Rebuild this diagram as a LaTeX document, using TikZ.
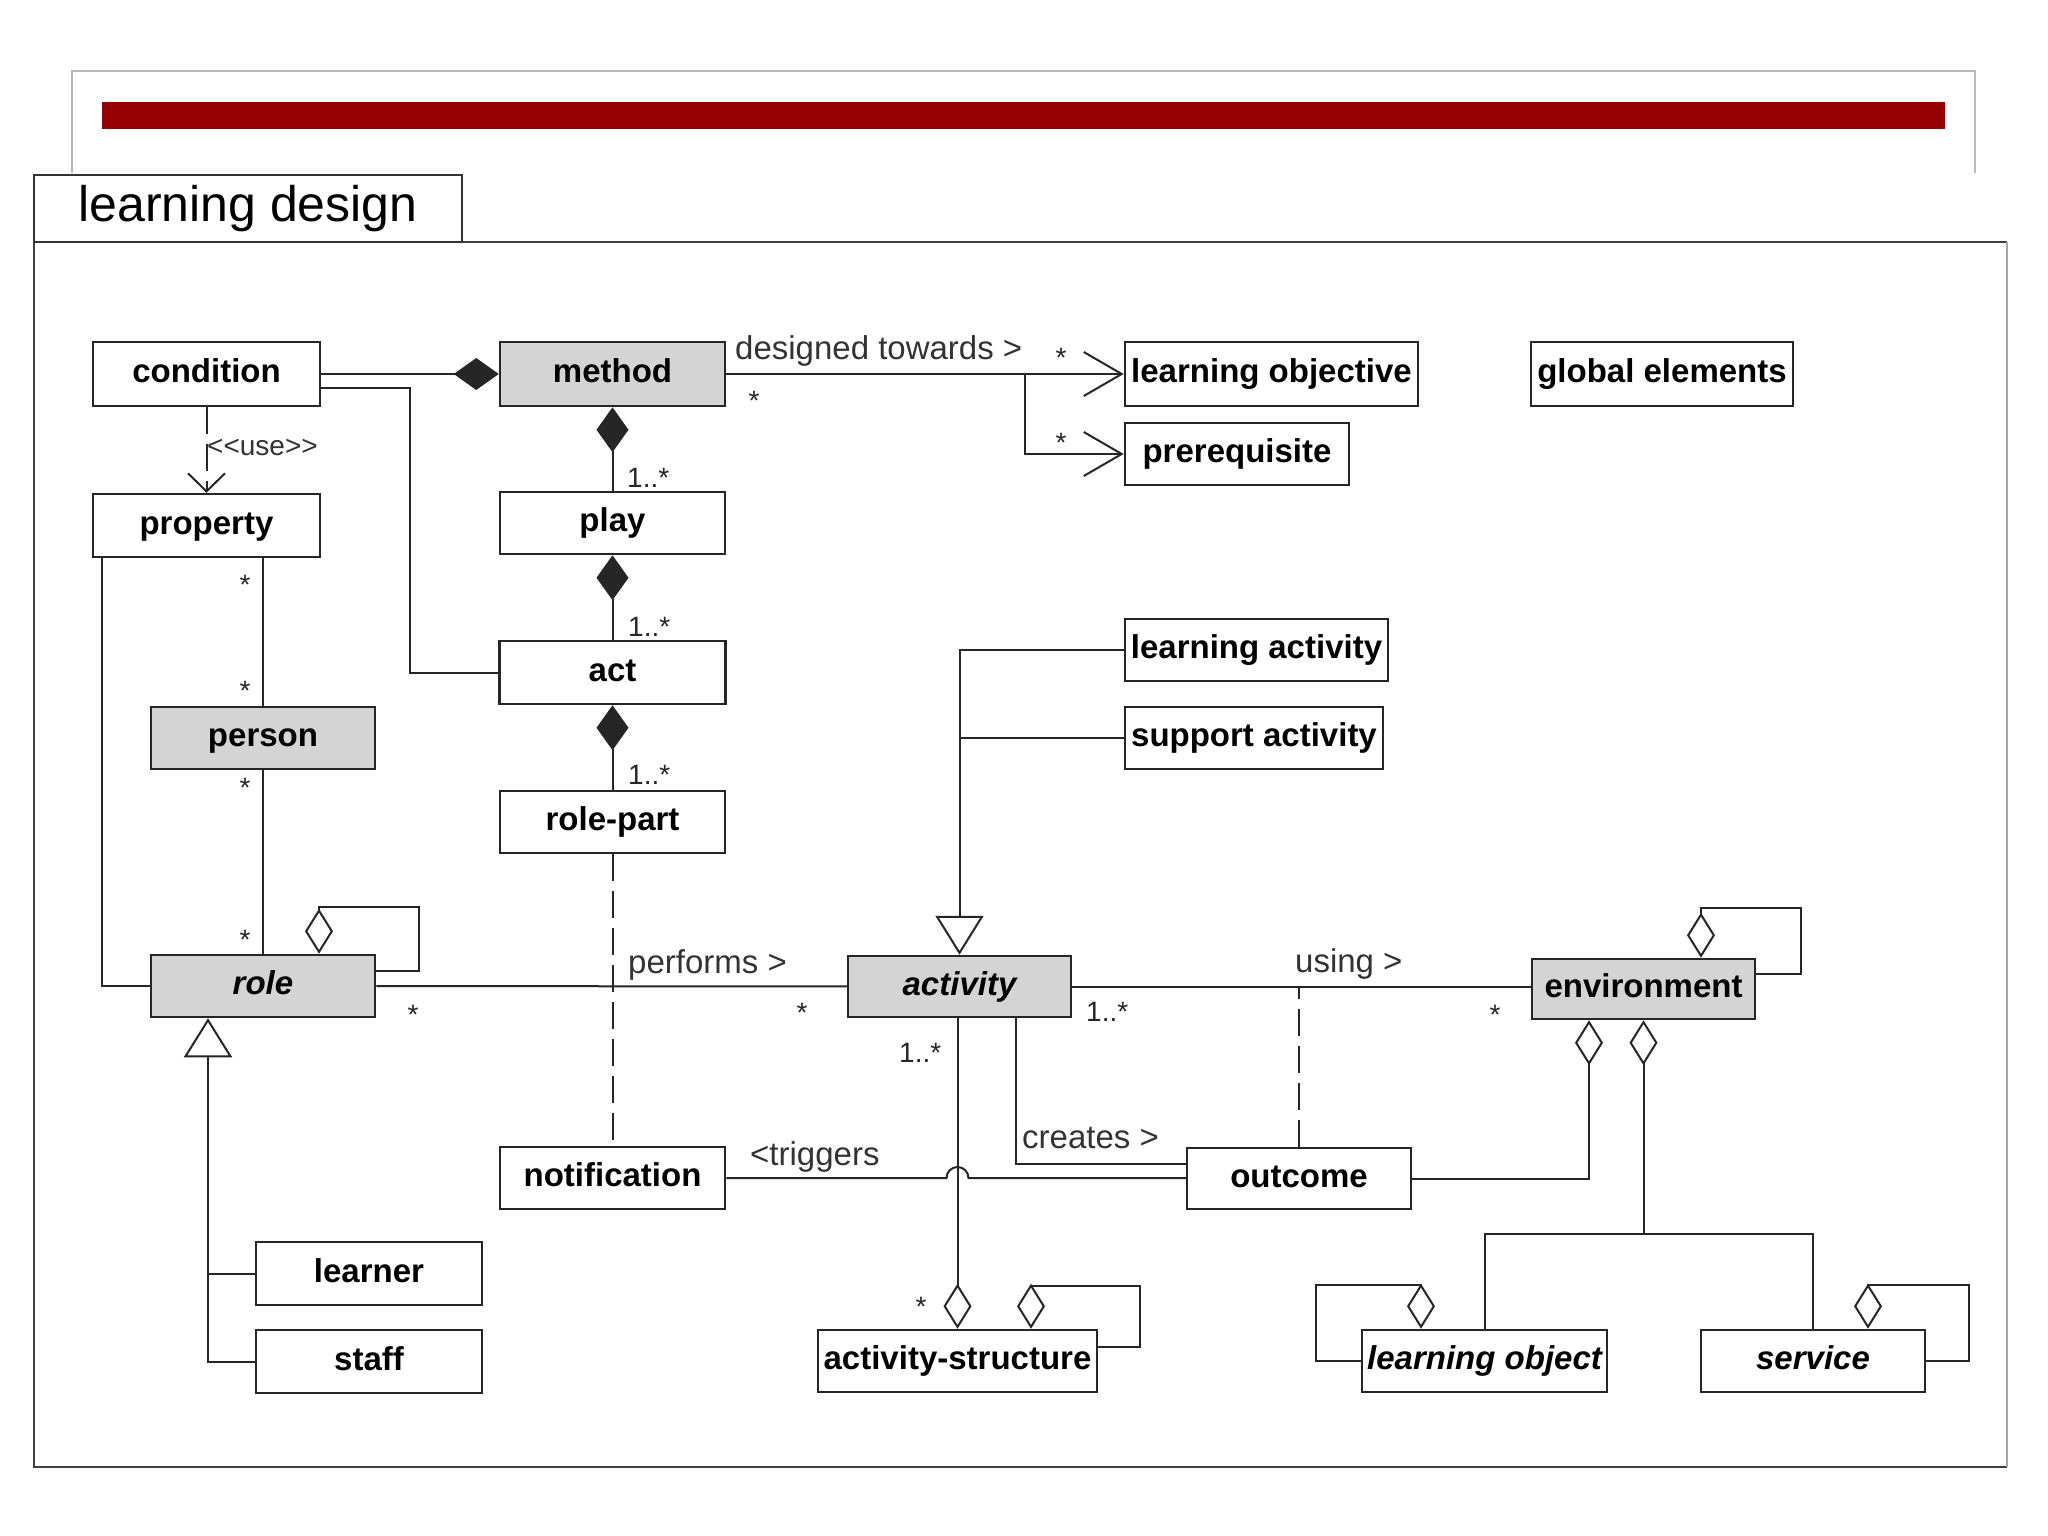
\documentclass[tikz,border=0pt]{standalone}
\usepackage{fontspec}
\setmainfont{Liberation Sans}
\usetikzlibrary{arrows.meta}
\definecolor{barred}{RGB}{150,0,0}
\definecolor{boxgray}{RGB}{212,212,212}

\begin{document}
\begin{tikzpicture}[x=1pt,y=-1pt]
\tikzstyle{every node}+=[inner sep=0pt]
\tikzstyle{cls}=[draw=black!85, line width=2.5pt, fill=white, text height=23pt, text depth=6pt, font=\fontsize{33}{40}\selectfont\bfseries]
\tikzstyle{clsg}=[cls, fill=boxgray]
\tikzstyle{abstr}=[font=\fontsize{33}{40}\selectfont\bfseries\itshape]
\tikzstyle{lbl}=[font=\fontsize{33}{40}\selectfont, text=black!80]
\tikzstyle{mult}=[font=\fontsize{28}{34}\selectfont, text=black!85]
\tikzstyle{conn}=[draw=black!85, line width=2pt]
\tikzstyle{dashln}=[dash pattern=on 27pt off 10pt]
\tikzstyle{comp}=[arrows={Diamond[length=45pt,width=32pt]-}]
\tikzstyle{agg}=[arrows={Diamond[open,length=45pt,width=28pt]-}]
\tikzstyle{gen}=[arrows={-Triangle[open,length=39pt,width=48pt]}]
\tikzstyle{nav}=[arrows={-Straight Barb[length=38pt,width=44pt]}]
\useasboundingbox (0,0) rectangle (2048,1536);
\fill[white] (0,0) rectangle (2048,1536);
\draw[gray!55, line width=1.5pt] (72,173) -- (72,71) -- (1975,71) -- (1975,173);
\fill[barred] (102,102) rectangle (1945,129);
\draw[black!75, line width=2.5pt] (2007,242) -- (34,242) -- (34,1467) -- (2007,1467);
\draw[gray!70, line width=1.5pt] (2007,242) -- (2007,1467);
\node[draw=black!80, line width=2.5pt, minimum width=428, minimum height=67, font=\fontsize{50}{60}\selectfont] (ldtab) at (248,208.5) {learning design};

\node[cls, minimum width=227, minimum height=64] (condition) at (206.5,374) {condition};
\node[clsg, minimum width=225, minimum height=64] (method) at (612.5,374) {method};
\node[cls, minimum width=293, minimum height=64] (lobj) at (1271.5,374) {learning objective};
\node[cls, minimum width=262, minimum height=64] (global) at (1662,374) {global elements};
\node[cls, minimum width=224, minimum height=62] (prereq) at (1237,454) {prerequisite};
\node[cls, minimum width=227, minimum height=63] (property) at (206.5,525.5) {property};
\node[cls, minimum width=225, minimum height=62] (play) at (612.5,523) {play};
\node[cls, minimum width=226, minimum height=63] (act) at (612.5,672.5) {act};
\node[cls, minimum width=225, minimum height=62] (rolepart) at (612.5,822) {role-part};
\node[clsg, minimum width=224, minimum height=62] (person) at (263,738) {person};
\node[cls, minimum width=263, minimum height=62] (lact) at (1256.5,650) {learning activity};
\node[cls, minimum width=258, minimum height=62] (sact) at (1254,738) {support activity};
\node[clsg, abstr, minimum width=224, minimum height=62] (role) at (263,986) {role};
\node[clsg, abstr, minimum width=223, minimum height=61] (activity) at (959.5,986.5) {activity};
\node[clsg, minimum width=223, minimum height=60] (environment) at (1643.5,989) {environment};
\node[cls, minimum width=225, minimum height=62] (notification) at (612.5,1178) {notification};
\node[cls, minimum width=224, minimum height=61] (outcome) at (1299,1178.5) {outcome};
\node[cls, minimum width=226, minimum height=63] (learner) at (369,1273.5) {learner};
\node[cls, minimum width=226, minimum height=63] (staff) at (369,1361.5) {staff};
\node[cls, minimum width=279, minimum height=62] (astruct) at (957.5,1361) {activity-structure};
\node[cls, abstr, minimum width=245, minimum height=62] (lobject) at (1484.5,1361) {learning object};
\node[cls, abstr, minimum width=224, minimum height=62] (service) at (1813,1361) {service};

\draw[conn, comp] (method) -- (condition);
\draw[conn] ([yshift=-14pt]condition.east) -- ++(89,0) |- (act);
\draw[conn, comp] (method) -- (play);
\draw[conn, comp] (play) -- (act);
\draw[conn, comp] (act) -- (rolepart);
\draw[conn, nav] (method) -- (lobj);
\draw[conn, nav] (method.east) -- ++(299,0) |- (prereq);
\draw[conn, dashln, arrows={-Straight Barb[length=18pt,width=37pt]}] (condition) -- (property);
\draw[conn] (property.south -| person) -- (person);
\draw[conn] (person) -- (role);
\draw[conn] ([xshift=10pt]property.south west) |- (role);
\draw[conn, agg] ([xshift=56pt]role.north) -- ++(0,-47) -- ++(100,0) |- ([yshift=15pt]role.east);
\draw[conn] (role) -- (activity);
\draw[conn, dashln] (rolepart) -- (notification);
\draw[conn, gen] (lact) -| (activity);
\draw[conn] (sact) -- (sact -| activity);
\draw[conn] (activity) -- (activity -| environment.west);
\draw[conn, dashln] (outcome) -- (outcome |- activity);
\draw[conn, agg] ([xshift=57.5pt]environment.north) -- ++(0,-50) -- ++(100,0) |- ([yshift=15pt]environment.east);
\draw[conn, agg] ([xshift=-54.5pt]environment.south) |- (outcome);
\coordinate (envfork) at ([yshift=-214pt]environment.south);
\draw[conn, agg] (environment.south) -- (envfork);
\draw[conn] (lobject) |- (envfork) -| (service);
\draw[conn, agg] ([xshift=-63.5pt]lobject.north) -- ++(0,-44) -- ++(-105,0) |- (lobject.west);
\draw[conn, agg] ([xshift=55pt]service.north) -- ++(0,-44) -- ++(101,0) |- (service.east);
\draw[conn, agg] (astruct.north) -- (astruct.north |- activity.south);
\draw[conn, agg] ([xshift=73.5pt]astruct.north) -- ++(0,-43) -- ++(109,0) |- ([yshift=14pt]astruct.east);
\draw[conn] ([xshift=56pt]activity.south) |- ([yshift=15pt]outcome.west);
\coordinate (hop) at (notification.east -| astruct.north);
\draw[conn] (notification) -- ([xshift=-11pt]hop) arc[start angle=180, end angle=0, radius=11pt] -- (outcome.west |- notification.east);
\draw[conn, gen] (staff) -| ([xshift=-55pt]role.south);
\draw[conn] (learner) -- ([xshift=-48pt]learner.west);

\node[lbl, anchor=base west] (ldesigned) at (735,359) {designed towards >};
\node[mult] (mmeth) at (754,401) {*};
\node[mult] (mlobj) at (1061,358) {*};
\node[mult] (mpre) at (1061,443) {*};
\node[lbl, anchor=base west, font=\fontsize{28}{34}\selectfont] (luse) at (207,455) {<{}<use>{}>};
\node[mult, anchor=south west] (mplay) at (627,488) {1..*};
\node[mult, anchor=south west] (mact) at (628,637) {1..*};
\node[mult, anchor=south west] (mrolepart) at (628,785) {1..*};
\node[mult] (mprop) at (245,585) {*};
\node[mult] (mpers1) at (245,691) {*};
\node[mult] (mpers2) at (245,788) {*};
\node[mult] (mrole1) at (245,940) {*};
\node[lbl, anchor=base west] (lperforms) at (628,973) {performs >};
\node[mult] (mrole2) at (413,1015) {*};
\node[mult] (mact1) at (802,1013) {*};
\node[lbl, anchor=base west] (lusing) at (1295,972) {using >};
\node[mult, anchor=south west] (mact2) at (1086,1022) {1..*};
\node[mult] (menv) at (1495,1015) {*};
\node[mult, anchor=south west] (mact3) at (899,1063) {1..*};
\node[mult] (mastruct) at (921,1307) {*};
\node[lbl, anchor=base west] (lcreates) at (1022,1148) {creates >};
\node[lbl, anchor=base west] (ltriggers) at (750,1165) {<triggers};
\end{tikzpicture}
\end{document}
